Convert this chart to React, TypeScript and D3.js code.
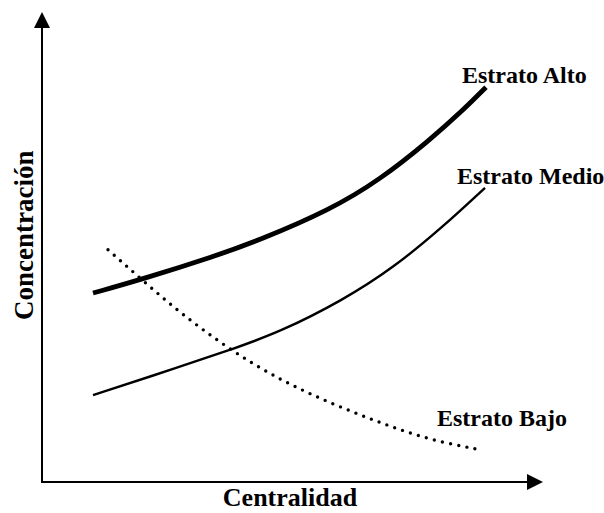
import React, { useEffect, useRef } from 'react';
import * as d3 from 'd3';

// curves, in abstract units (0..100 on both axes)
const altoX = [10.2, 20.2, 34.2, 43.6, 57.6, 67.6, 77.6, 84.2, 88.8];
const altoY = [40.2, 43.2, 47.9, 51.5, 57.9, 64.3, 72.8, 79.1, 84.0];
const medioX = [10.2, 27.6, 37.6, 47.6, 60.2, 70.2, 80.2, 88.6];
const medioY = [18.5, 24.5, 28.1, 31.9, 38.7, 45.5, 54.3, 62.6];
const bajoX = [13.2, 21.0, 27.6, 37.6, 47.6, 57.6, 67.6, 77.6, 88.0];
const bajoY = [49.4, 42.1, 36.0, 28.1, 21.7, 16.8, 12.6, 8.9, 6.8];

const seriesNames = ['Estrato Alto', 'Estrato Medio', 'Estrato Bajo'];
// label anchor (left, baseline) in the same units
const labelX = [84, 83, 79];
const labelY = [85, 63.4, 12];

const xTitle = 'Centralidad';
const yTitle = 'Concentración';

const W = 604;
const H = 513;
const FONT = '"Liberation Serif", "Times New Roman", serif';

export default function App() {
  const svgRef = useRef<SVGSVGElement>(null);

  useEffect(() => {
    if (!svgRef.current) return;
    const svg = d3.select(svgRef.current);
    svg.selectAll('*').remove();

    const x = d3.scaleLinear().domain([0, 100]).range([42, 542]);
    const y = d3.scaleLinear().domain([0, 100]).range([482, 12]);

    // axes with arrow heads
    const x0 = x(0), y0 = y(0);
    const xEnd = x(100), yEnd = y(100);
    svg.append('line')
      .attr('x1', x0).attr('y1', y0 + 1)
      .attr('x2', x0).attr('y2', yEnd + 14)
      .attr('stroke', '#000').attr('stroke-width', 2);
    svg.append('path')
      .attr('d', `M${x0},${yEnd} L${x0 - 8},${yEnd + 16} L${x0 + 8},${yEnd + 16} Z`)
      .attr('fill', '#000');
    svg.append('line')
      .attr('x1', x0 - 1).attr('y1', y0)
      .attr('x2', xEnd - 14).attr('y2', y0)
      .attr('stroke', '#000').attr('stroke-width', 2);
    svg.append('path')
      .attr('d', `M${xEnd + 1},${y0} L${xEnd - 15},${y0 - 8} L${xEnd - 15},${y0 + 8} Z`)
      .attr('fill', '#000');

    const line = d3.line<[number, number]>()
      .x(d => x(d[0]))
      .y(d => y(d[1]))
      .curve(d3.curveBasis);

    const alto = altoX.map((v, i) => [v, altoY[i]] as [number, number]);
    const medio = medioX.map((v, i) => [v, medioY[i]] as [number, number]);
    const bajo = bajoX.map((v, i) => [v, bajoY[i]] as [number, number]);

    svg.append('path').datum(alto)
      .attr('d', line).attr('fill', 'none')
      .attr('stroke', '#000').attr('stroke-width', 4.8);
    svg.append('path').datum(medio)
      .attr('d', line).attr('fill', 'none')
      .attr('stroke', '#000').attr('stroke-width', 2.4);
    svg.append('path').datum(bajo)
      .attr('d', line).attr('fill', 'none')
      .attr('stroke', '#000').attr('stroke-width', 3.4)
      .attr('stroke-linecap', 'round')
      .attr('stroke-dasharray', '0 8.3');

    // series labels
    seriesNames.forEach((name, i) => {
      svg.append('text')
        .attr('x', x(labelX[i]))
        .attr('y', y(labelY[i]))
        .attr('font-family', FONT)
        .attr('font-weight', 'bold')
        .attr('font-size', 24)
        .text(name);
    });

    // axis titles
    svg.append('text')
      .attr('x', x(49.6))
      .attr('y', 506)
      .attr('text-anchor', 'middle')
      .attr('font-family', FONT)
      .attr('font-weight', 'bold')
      .attr('font-size', 26)
      .text(xTitle);
    svg.append('text')
      .attr('transform', `translate(33,${y(52.5)}) rotate(-90)`)
      .attr('text-anchor', 'middle')
      .attr('font-family', FONT)
      .attr('font-weight', 'bold')
      .attr('font-size', 27)
      .text(yTitle);
  }, []);

  return (
    <div style={{ position: 'absolute', left: 0, top: 0, width: W, height: H, background: '#fff' }}>
      <svg ref={svgRef} width={W} height={H} style={{ display: 'block' }} />
    </div>
  );
}
